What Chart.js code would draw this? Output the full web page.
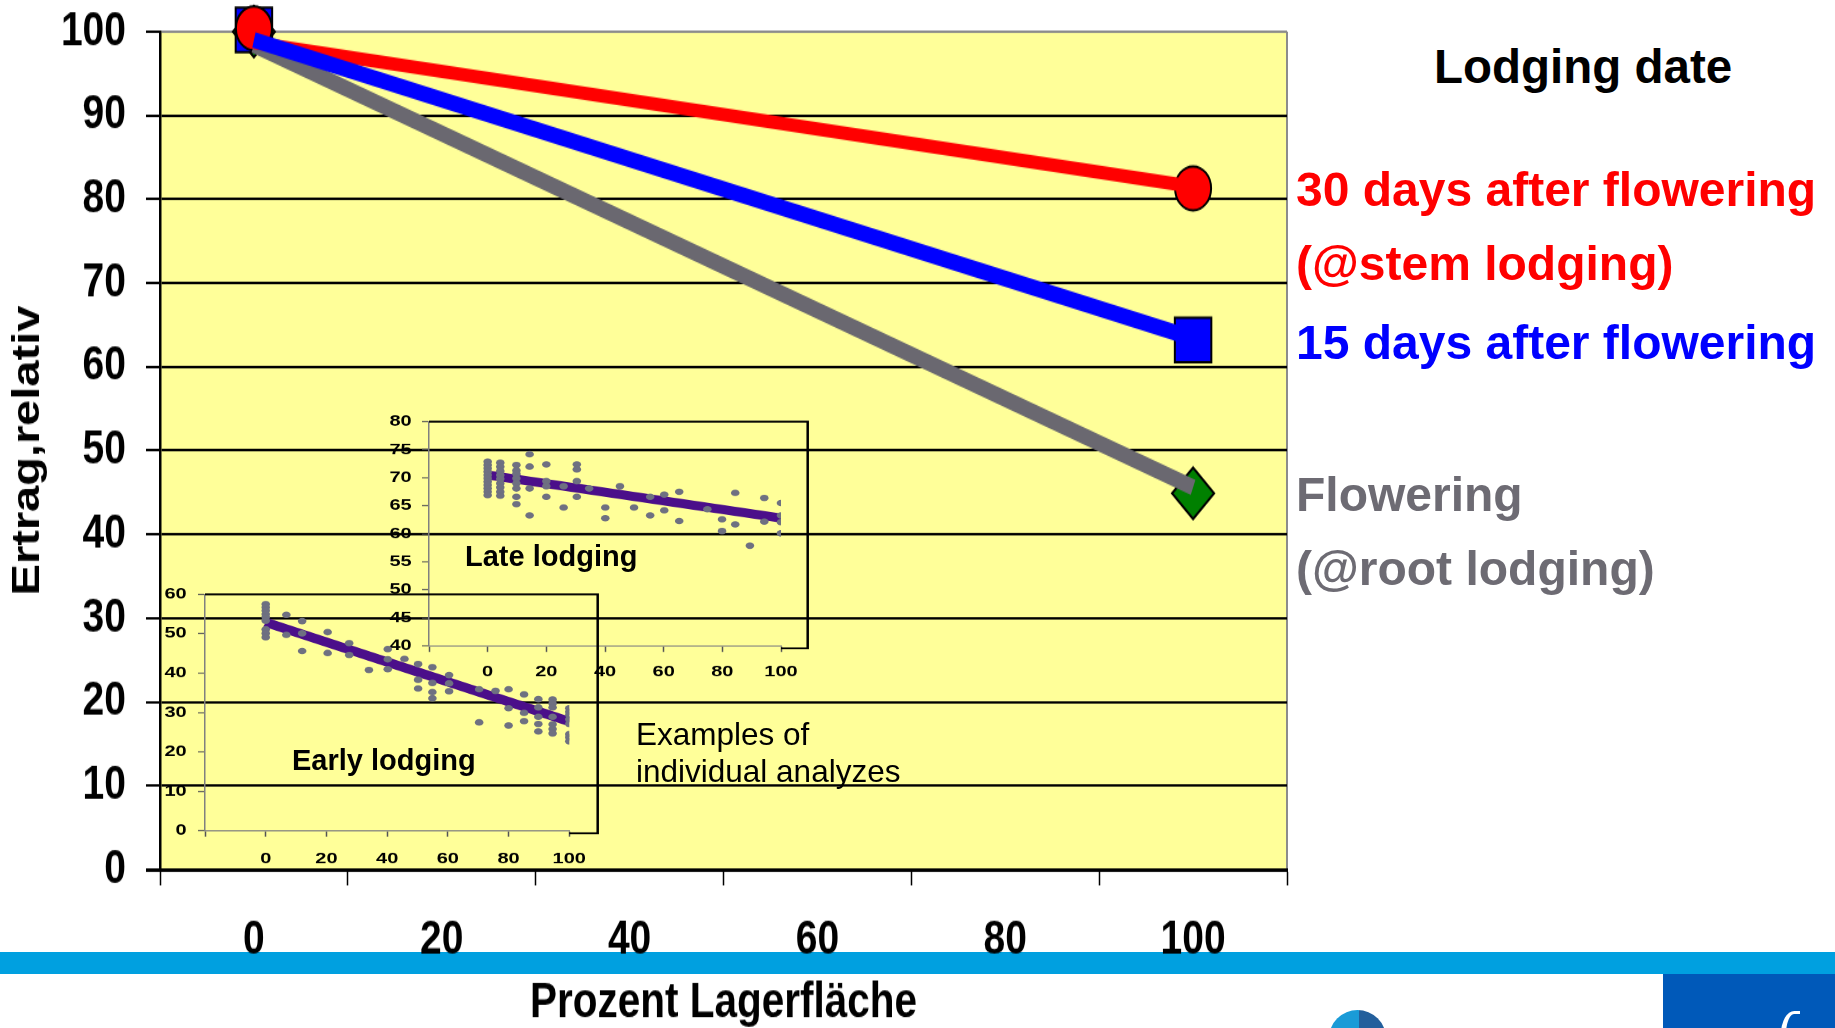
<!DOCTYPE html>
<html lang="de">
<head>
<meta charset="utf-8">
<title>Ertrag nach Lagerfläche</title>
<script src="https://cdn.jsdelivr.net/npm/chart.js@4.4.1/dist/chart.umd.min.js"></script>
<style>
    html, body { margin: 0; padding: 0; background: #fff; }
    #slide { position: relative; width: 1835px; height: 1028px; overflow: hidden; background: #fff; font-family: "Liberation Sans", Arial, sans-serif; }
    .band { position: absolute; left: 0; top: 952px; width: 1835px; height: 22px; background: #00a0e0; }
    .corner { position: absolute; left: 1663px; top: 974px; width: 172px; height: 54px; background: #0059b9; }
    .leaf { position: absolute; left: 1781px; top: 1011px; width: 14px; height: 30px; border-left: 5px solid #fff; border-top: 3px solid #fff; border-radius: 70% 0 0 0; }
    .logo { position: absolute; left: 1329px; top: 1010px; width: 57px; height: 57px; border-radius: 50%; background: linear-gradient(90deg, #1a9bd7 53%, #235f9c 53%); }
    .box { position: absolute; transform-origin: 0 0; }
    #mainBox { left: 0; top: 0; transform: scaleY(1.2195); }
    #earlyBox { left: 140px; top: 585px; transform: scaleY(0.75); }
    #lateBox { left: 360px; top: 410px; transform: scaleY(0.75); }
    .txt { position: absolute; white-space: nowrap; line-height: 1; font-weight: bold; }
    .side { font-size: 48px; left: 1296px; }
    .note { font-size: 31.5px; font-weight: normal; color: #000; left: 636px; }
</style>
</head>
<body>
<div id="slide">
    <div class="band"></div>
    <div class="corner"></div>
    <div class="leaf"></div>
    <div class="logo"></div>

    <div class="box" id="mainBox"><canvas id="main-chart" width="1300" height="843"></canvas></div>
    <div class="box" id="lateBox"><canvas id="late-chart" width="470" height="367"></canvas></div>
    <div class="box" id="earlyBox"><canvas id="early-chart" width="470" height="380"></canvas></div>

    <div class="txt" style="left:465px; top:542px; font-size:29px;">Late lodging</div>
    <div class="txt" style="left:292px; top:746px; font-size:29px;">Early lodging</div>
    <div class="txt note" style="top:719px;">Examples of</div>
    <div class="txt note" style="top:756px;">individual analyzes</div>

    <div class="txt" style="left:1434px; top:43px; font-size:47.5px; color:#000;">Lodging date</div>
    <div class="txt side" style="top:166px; color:#ff0000;">30 days after flowering</div>
    <div class="txt side" style="top:240px; color:#ff0000;">(@stem lodging)</div>
    <div class="txt side" style="top:319px; color:#0000ff;">15 days after flowering</div>
    <div class="txt side" style="top:471px; color:#6d6b73;">Flowering</div>
    <div class="txt side" style="top:545px; color:#6d6b73;">(@root lodging)</div>
</div>

<script>
// Kategorien der Hauptgrafik (Prozent Lagerfläche)
const lagerflaeche = ["0", "20", "40", "60", "80", "100"];

// Linien: Ertrag bei 0 % und 100 % Lager, dazwischen keine Werte
const stemLine = [98.7, null, null, null, null, 81.5];
const midLine = [99.0, null, null, null, null, 63.4];
const rootLine = [98.4, null, null, null, null, 45.6];

// Symbole an den Enden
const stemMarks = [100.4, null, null, null, null, 81.3];
const midMarks = [100.2, null, null, null, null, 63.2];
const rootMarks = [100.0, null, null, null, null, 44.9];

// Einzelauswertung frühes Lager
const earlyX = [0, 0, 0, 0, 0, 0, 0, 0, 0, 6.8, 6.8, 12, 12, 12, 20.4, 20.4, 27.5, 27.5, 34, 40.2, 40.2, 40.2, 45.7,
    50.2, 50.2, 50.2, 54.9, 54.9, 54.9, 54.9, 60.4, 60.4, 60.4, 70.3, 70.3, 75.7, 80, 80, 80, 85.1, 85.1, 85.1,
    89.8, 89.8, 89.8, 89.8, 89.8, 94.5, 94.5, 94.5, 94.5, 94.5, 94.5, 94.5, 100, 100, 100, 100, 100, 100, 100, 100];
const earlyY = [57.5, 56.7, 55.9, 55.0, 54.2, 53.3, 51.1, 50.1, 49.1, 54.8, 49.7, 53.2, 50.1, 45.6, 50.4, 45.1, 47.6, 44.6, 40.8, 46.1, 43.5, 41.0, 43.6,
    42.3, 38.3, 36.1, 41.5, 37.5, 35.2, 33.6, 39.5, 37.4, 35.4, 35.9, 27.5, 35.5, 35.9, 31.1, 26.7, 34.6, 29.9, 27.8,
    33.4, 31.3, 28.9, 27.1, 25.2, 33.3, 32.3, 31.3, 28.9, 27.0, 25.8, 24.7, 31.1, 30.2, 29.4, 28.3, 27.1, 24.5, 23.7, 22.7];
const earlyFitX = [0, 100];
const earlyFitY = [52.9, 27.7];

// Einzelauswertung spätes Lager
const lateX = [0, 0, 0, 0, 0, 0, 0, 0, 0, 0, 0, 4.3, 4.3, 4.3, 4.3, 4.3, 4.3, 4.3, 4.3, 4.3,
    9.8, 9.8, 9.8, 9.8, 9.8, 9.8, 9.8, 9.8, 14.3, 14.3, 14.3, 14.3, 20, 20, 20, 20, 25.9, 25.9,
    30.4, 30.4, 30.4, 30.4, 34.6, 40.1, 40.1, 45.1, 49.9, 55.4, 55.4, 60.2, 60.2, 65.3, 65.3, 74.9,
    79.9, 79.9, 84.4, 84.4, 89.4, 94.3, 94.3, 100, 100, 100, 100];
const lateY = [72.9, 72.3, 71.7, 71.1, 70.5, 69.9, 69.3, 68.7, 68.1, 67.5, 66.9, 72.7, 72.0, 71.2, 70.5, 69.8, 69.0, 68.3, 67.5, 66.8,
    72.3, 71.3, 70.7, 69.9, 69.0, 68.1, 66.6, 65.3, 74.2, 72.0, 68.1, 63.3, 72.4, 69.4, 68.5, 66.6, 68.5, 64.7,
    72.4, 71.5, 69.4, 66.6, 68.1, 64.7, 62.8, 68.5, 64.7, 66.6, 63.3, 67.0, 64.2, 67.5, 62.3, 64.4,
    62.6, 60.5, 67.3, 61.7, 57.9, 66.4, 62.2, 65.5, 63.3, 62.1, 60.1];
const lateFitX = [0, 100];
const lateFitY = [70.5, 62.8];

Chart.defaults.font.family = '"Liberation Sans", Arial, sans-serif';
Chart.defaults.color = "#000";

// gelber Hintergrund der Zeichenfläche mit grauem Rand rechts
const plotBackground = {
    id: "plotBackground",
    beforeDraw(chart, args, opts) {
        const { ctx, chartArea: a } = chart;
        ctx.save();
        ctx.fillStyle = opts.color;
        ctx.fillRect(a.left, a.top, a.width, a.height);
        ctx.strokeStyle = opts.edge;
        ctx.lineWidth = 2;
        ctx.beginPath();
        ctx.moveTo(a.right, a.top);
        ctx.lineTo(a.right, a.bottom);
        ctx.stroke();
        ctx.restore();
    },
};

// schwarzer Rahmen oben/rechts um die kleinen Grafiken
const insetFrame = {
    id: "insetFrame",
    afterDraw(chart, args, opts) {
        const { ctx, chartArea: a } = chart;
        const r = a.right + opts.extra;
        ctx.save();
        ctx.strokeStyle = "#000";
        ctx.lineWidth = 2.5;
        ctx.beginPath();
        ctx.moveTo(a.left, a.top);
        ctx.lineTo(r, a.top);
        ctx.lineTo(r, a.bottom + opts.drop);
        ctx.lineTo(a.right, a.bottom + opts.drop);
        ctx.stroke();
        ctx.restore();
    },
};

// feste Achsenbreite, ohne Zusatzabstand über/unter den Beschriftungen
function fixWidth(width) {
    return (scale) => {
        scale.width = width;
        scale.paddingTop = 0;
        scale.paddingBottom = 0;
    };
}

function lineSet(label, data, color, width, order) {
    return { label, data, borderColor: color, borderWidth: width, pointRadius: 0, spanGaps: true, fill: false, order, clip: false };
}

function markSet(label, data, style, radius, color, order) {
    return {
        label, data, showLine: false, pointStyle: style, pointRadius: radius,
        pointBackgroundColor: color, pointBorderColor: "#000", pointBorderWidth: 2, order, clip: false,
    };
}

new Chart(document.getElementById("main-chart"), {
    type: "line",
    data: {
        labels: lagerflaeche,
        datasets: [
            lineSet("30 days after flowering", stemLine, "#ff0000", 11, 2),
            lineSet("15 days after flowering", midLine, "#0000ff", 13, 1),
            lineSet("Flowering", rootLine, "#6a6870", 13, 3),
            markSet("30 days", stemMarks, "circle", 18, "#ff0000", 4),
            markSet("15 days", midMarks, "rect", 25.8, "#0000ff", 5),
            markSet("Flowering", rootMarks, "rectRot", 21, "#008000", 6),
        ],
    },
    options: {
        responsive: false,
        devicePixelRatio: 1,
        animation: false,
        layout: { autoPadding: false, padding: { top: 25.9, right: 13, left: 0, bottom: 0 } },
        plugins: {
            legend: { display: false },
            tooltip: { enabled: false },
            plotBackground: { color: "#ffff99", edge: "#8c8c8c" },
        },
        scales: {
            x: {
                offset: true,
                grid: { offset: true, drawOnChartArea: false, tickLength: 13, tickColor: "#000", tickWidth: 1.5 },
                border: { color: "#000", width: 3 },
                ticks: { font: { size: 39, weight: "bold" }, padding: 22, maxRotation: 0, autoSkip: false },
                title: { display: true, text: "Prozent Lagerfläche", font: { size: 40.5, weight: "bold", lineHeight: 1 }, padding: 0 },
                afterFit: (scale) => { scale.height = 130; },
            },
            y: {
                min: 0,
                max: 100,
                ticks: { stepSize: 10, font: { size: 39, weight: "bold" }, padding: 20 },
                grid: {
                    color: (c) => (c.tick && c.tick.value === 100 ? "#8c8c8c" : "#000"),
                    lineWidth: (c) => (c.tick && c.tick.value === 0 ? 3 : 2),
                    tickColor: "#000",
                    tickLength: 14,
                    tickWidth: (c) => (c.tick && c.tick.value === 0 ? 3 : 2),
                },
                border: { color: "#000", width: 2.5 },
                title: { display: true, text: "Ertrag,relativ", font: { size: 38.5, weight: "bold" }, padding: { top: 5, bottom: 0 } },
                afterFit: fixWidth(160),
            },
        },
    },
    plugins: [plotBackground],
});

function insetChart(id, xs, ys, fitX, fitY, yMin, yMax, yStep, box) {
    const points = xs.map((x, i) => ({ x: x, y: ys[i] }));
    const fit = fitX.map((x, i) => ({ x: x, y: fitY[i] }));
    const tickFont = { size: 20, weight: "bold" };
    return new Chart(document.getElementById(id), {
        type: "scatter",
        data: {
            datasets: [
                { data: points, pointRadius: 4.3, pointBackgroundColor: "#6e7081", pointBorderWidth: 0, order: 1 },
                { type: "line", data: fit, borderColor: "#4b0f8a", borderWidth: 12, pointRadius: 0, fill: false, order: 2 },
            ],
        },
        options: {
            responsive: false,
            devicePixelRatio: 1,
            animation: false,
            layout: { autoPadding: false, padding: { top: box.top, right: box.right, left: 0, bottom: 0 } },
            plugins: {
                legend: { display: false },
                tooltip: { enabled: false },
                insetFrame: { extra: box.extra, drop: box.drop },
            },
            scales: {
                x: {
                    type: "linear",
                    min: -20,
                    max: 100,
                    ticks: { stepSize: 20, font: tickFont, padding: box.xPad, callback: (v) => (v < 0 ? "" : v) },
                    grid: { drawOnChartArea: false, tickLength: 8, tickColor: "#555", tickWidth: 1.5 },
                    border: { color: "#808080", width: 1.5 },
                    afterFit: (s) => { s.height = box.xHeight; },
                },
                y: {
                    min: yMin,
                    max: yMax,
                    ticks: { stepSize: yStep, font: tickFont, padding: box.yPad },
                    grid: { drawOnChartArea: false, tickLength: 7, tickColor: "#555", tickWidth: 1.5 },
                    border: { color: "#808080", width: 1.5 },
                    afterFit: fixWidth(box.yWidth),
                },
            },
        },
        plugins: [insetFrame],
    });
}

insetChart("late-chart", lateX, lateY, lateFitX, lateFitY, 40, 80, 5,
    { top: 15.6, right: 49, yWidth: 69, xHeight: 52.3, xPad: 14.3, yPad: 10.3, extra: 26.7, drop: 3 });

insetChart("early-chart", earlyX, earlyY, earlyFitX, earlyFitY, 0, 60, 10,
    { top: 12.4, right: 40.7, yWidth: 65, xHeight: 52.4, xPad: 18.1, yPad: 11.3, extra: 28.4, drop: 3.5 });
</script>
</body>
</html>
